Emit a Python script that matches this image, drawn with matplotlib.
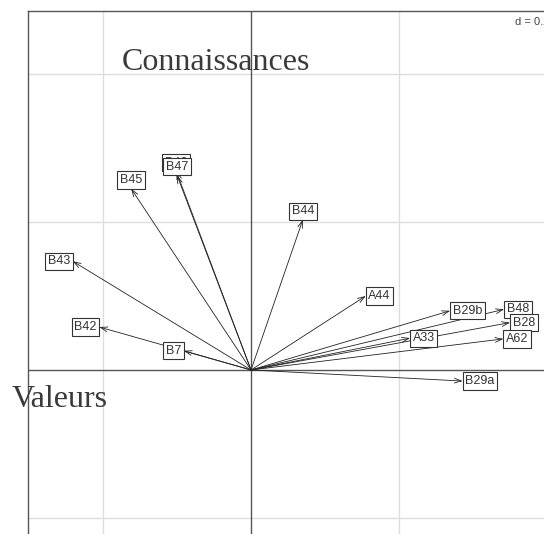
import matplotlib
matplotlib.use('Agg')
import matplotlib.pyplot as plt

# arrow end points (variable loadings)
labels = ['B46', 'B47', 'B45', 'B43', 'B44', 'B42', 'B7', 'A44',
          'B29b', 'B48', 'B28', 'A33', 'A62', 'B29a']
xs = [-0.101, -0.100, -0.162, -0.241, 0.070, -0.205, -0.091, 0.155,
      0.269, 0.342, 0.350, 0.215, 0.341, 0.286]
ys = [0.2685, 0.263, 0.245, 0.147, 0.203, 0.058, 0.026, 0.100,
      0.080, 0.082, 0.064, 0.043, 0.042, -0.015]

grid_d = 0.2
grid_x = [-0.2, 0.2]
grid_y = [-0.2, 0.2, 0.4]

fig = plt.figure(figsize=(5.44, 5.34), dpi=100)
ax = fig.add_axes([28/544, (534-560)/534, 527/544, 549/534])
ax.set_xlim(-0.3014, 0.4108)
ax.set_ylim(-0.2568, 0.4851)
ax.set_xticks([])
ax.set_yticks([])
for sp in ax.spines.values():
    sp.set_color('#555555')
    sp.set_linewidth(1.0)

for gx in grid_x:
    ax.axvline(gx, color='#dedede', lw=1.0, zorder=1)
for gy in grid_y:
    ax.axhline(gy, color='#dedede', lw=1.0, zorder=1)
ax.axvline(0, color='#555555', lw=1.0, zorder=2)
ax.axhline(0, color='#555555', lw=1.0, zorder=2)

for x, y in zip(xs, ys):
    ax.annotate('', xy=(x, y), xytext=(0, 0),
                arrowprops=dict(arrowstyle='->,head_length=0.5,head_width=0.17',
                                color='#222222', lw=0.6, shrinkA=0, shrinkB=0),
                zorder=3)

fs = 9
pad = 0.21
off = pad * fs  # box edge touches the arrow tip
for lab, x, y in zip(labels, xs, ys):
    if abs(x) >= abs(y):
        ha, va = ('left' if x > 0 else 'right'), 'center'
        dx, dy = (off if x > 0 else -off), 0
    else:
        ha, va = 'center', ('bottom' if y > 0 else 'top')
        dx, dy = 0, (off if y > 0 else -off)
    ax.annotate(lab, xy=(x, y), xytext=(dx, dy), textcoords='offset points',
                ha=ha, va=va, fontsize=fs, family='Liberation Sans', color='#333333',
                zorder=4,
                bbox=dict(boxstyle='square,pad=%s' % pad, fc='white', ec='#333333', lw=0.8))

ax.text(0.3568, 0.4703, 'd = ' + str(grid_d), ha='left', va='center', fontsize=8,
        family='Liberation Sans', color='#444444', zorder=5)

ax.text(-0.1743, 0.4054, 'Connaissances', fontsize=23, family='Liberation Serif',
        color='#3a3a3a', ha='left', va='baseline', zorder=5)
ax.text(-0.3230, -0.0500, 'Valeurs', fontsize=23, family='Liberation Serif',
        color='#3a3a3a', ha='left', va='baseline', zorder=5)

fig.savefig('out.png', dpi=100)
